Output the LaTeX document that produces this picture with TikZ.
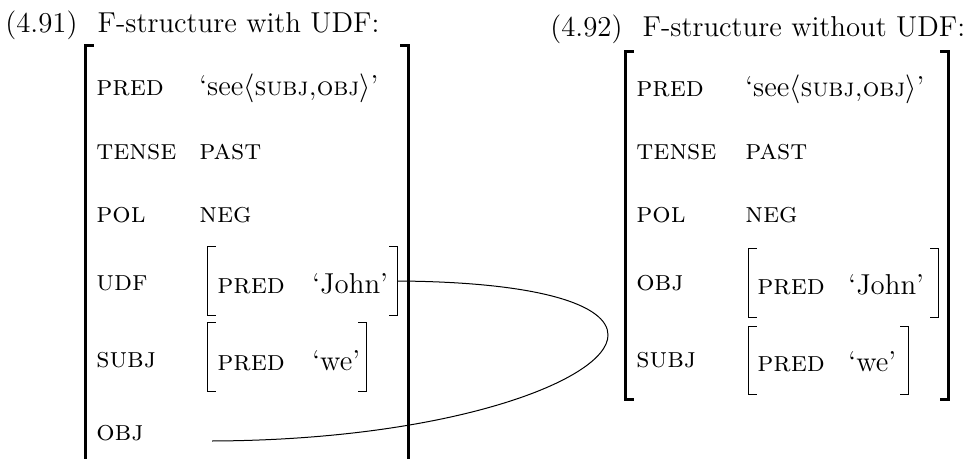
\documentclass[tikz,border=0pt]{standalone}
\usetikzlibrary{calc,fit}
\tikzset{
  txt/.style={anchor=base west, inner sep=0pt, font=\fontsize{14.4}{17}\selectfont},
  frame/.style={inner sep=0pt, draw=none},
  bigbr/.style={line width=1.3pt, line join=miter},
  smallbr/.style={line width=0.8pt, line join=miter},
  link/.style={line width=0.5pt},
}
\newcommand\valsc[1]{{\fontsize{13}{16}\selectfont\textsc{#1}}}
\begin{document}
\begin{tikzpicture}[x=0.5pt,y=-0.5pt]
\useasboundingbox (0,0) rectangle (972,459);
\clip (0,0) rectangle (972,459);
% ---------------- left structure (4.91)
\node[txt] (titleA) at (5,33) {(4.91)\hspace{0.7em}F-structure with UDF:};
\node[frame, fit={(86,46) (408,480)}] (fsA) {};
\draw[bigbr] ($(fsA.north west)+(8,0)$) -- (fsA.north west) -- (fsA.south west);
\draw[bigbr] ($(fsA.north east)+(-8,0)$) -- (fsA.north east) -- (fsA.south east);
\node[txt] (predA) at (96,96) {\textsc{pred}};
\node[txt] (predAv) at (199,96) {`see$\langle$\valsc{subj,obj}$\rangle$'};
\node[txt] (tenseA) at (96,160) {\textsc{tense}};
\node[txt] (tenseAv) at (199,160) {\textsc{past}};
\node[txt] (polA) at (96,223) {\textsc{pol}};
\node[txt] (polAv) at (199,223) {\textsc{neg}};
\node[txt] (udfA) at (96,290) {\textsc{udf}};
\node[frame, fit={(208,247) (397,315)}] (udfAfs) {};
\draw[smallbr] ($(udfAfs.north west)+(8,0)$) -- (udfAfs.north west) -- (udfAfs.south west) -- ($(udfAfs.south west)+(8,0)$);
\draw[smallbr] ($(udfAfs.north east)+(-8,0)$) -- (udfAfs.north east) -- (udfAfs.south east) -- ($(udfAfs.south east)+(-8,0)$);
\node[txt] (udfApred) at (217,293) {\textsc{pred}};
\node[txt] (udfAval) at (312,293) {`John'};
\node[txt] (subjA) at (96,367) {\textsc{subj}};
\node[frame, fit={(208,323) (366,391)}] (subjAfs) {};
\draw[smallbr] ($(subjAfs.north west)+(8,0)$) -- (subjAfs.north west) -- (subjAfs.south west) -- ($(subjAfs.south west)+(8,0)$);
\draw[smallbr] ($(subjAfs.north east)+(-8,0)$) -- (subjAfs.north east) -- (subjAfs.south east) -- ($(subjAfs.south east)+(-8,0)$);
\node[txt] (subjApred) at (217,370) {\textsc{pred}};
\node[txt] (subjAval) at (312,370) {`we'};
\node[txt] (objA) at (96,440) {\textsc{obj}};
\coordinate (objAval) at (212,441);
\draw[link] (udfAfs.east) .. controls (540,282) and (608,305) .. (608,335)
  .. controls (608,380) and (450,440) .. (objAval);
% ---------------- right structure (4.92)
\node[txt] (titleB) at (550,37) {(4.92)\hspace{0.7em}F-structure without UDF:};
\node[frame, fit={(626,52) (948,399)}] (fsB) {};
\draw[bigbr] ($(fsB.north west)+(8,0)$) -- (fsB.north west) -- (fsB.south west) -- ($(fsB.south west)+(8,0)$);
\draw[bigbr] ($(fsB.north east)+(-8,0)$) -- (fsB.north east) -- (fsB.south east) -- ($(fsB.south east)+(-8,0)$);
\node[txt] (predB) at (636,97) {\textsc{pred}};
\node[txt] (predBv) at (745,97) {`see$\langle$\valsc{subj,obj}$\rangle$'};
\node[txt] (tenseB) at (636,160) {\textsc{tense}};
\node[txt] (tenseBv) at (745,160) {\textsc{past}};
\node[txt] (polB) at (636,223) {\textsc{pol}};
\node[txt] (polBv) at (745,223) {\textsc{neg}};
\node[txt] (objB) at (636,290) {\textsc{obj}};
\node[frame, fit={(749,249) (938,317)}] (objBfs) {};
\draw[smallbr] ($(objBfs.north west)+(8,0)$) -- (objBfs.north west) -- (objBfs.south west) -- ($(objBfs.south west)+(8,0)$);
\draw[smallbr] ($(objBfs.north east)+(-8,0)$) -- (objBfs.north east) -- (objBfs.south east) -- ($(objBfs.south east)+(-8,0)$);
\node[txt] (objBpred) at (757,294) {\textsc{pred}};
\node[txt] (objBval) at (848,294) {`John'};
\node[txt] (subjB) at (636,367) {\textsc{subj}};
\node[frame, fit={(749,327) (908,394)}] (subjBfs) {};
\draw[smallbr] ($(subjBfs.north west)+(8,0)$) -- (subjBfs.north west) -- (subjBfs.south west) -- ($(subjBfs.south west)+(8,0)$);
\draw[smallbr] ($(subjBfs.north east)+(-8,0)$) -- (subjBfs.north east) -- (subjBfs.south east) -- ($(subjBfs.south east)+(-8,0)$);
\node[txt] (subjBpred) at (757,371) {\textsc{pred}};
\node[txt] (subjBval) at (848,371) {`we'};
\end{tikzpicture}
\end{document}
